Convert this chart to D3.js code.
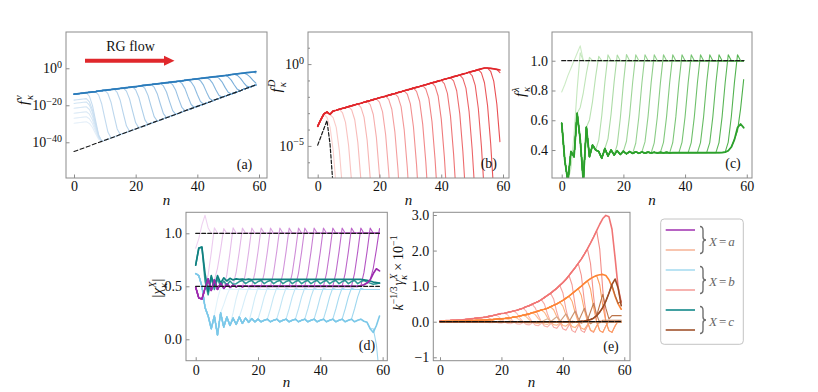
<!DOCTYPE html>
<html><head><meta charset="utf-8">
<script src="https://cdn.jsdelivr.net/npm/d3@7"></script>
<style>
body{margin:0;background:#fff;}
svg{font-family:"Liberation Serif","Times New Roman","DejaVu Serif",serif;background:#fff;}
svg text{font-family:"Liberation Serif","Times New Roman","DejaVu Serif",serif;}
</style></head><body>
<svg id="chart" width="818" height="392"></svg>
<script>
// ================= DATA =================
const xTicks = [0, 20, 40, 60];

// (a) f^nu : log10 values
const aEnvLog = [-14.0,-13.8,-13.6,-13.4,-13.2,-13.0,-12.8,-12.6,-12.3,-12.1,
  -11.9,-11.7,-11.5,-11.3,-11.1,-10.9,-10.7,-10.5,-10.3,-10.1,
  -9.9,-9.7,-9.4,-9.2,-9.0,-8.8,-8.6,-8.4,-8.2,-8.0,
  -7.8,-7.6,-7.4,-7.2,-7.0,-6.8,-6.5,-6.3,-6.1,-5.9,
  -5.7,-5.5,-5.3,-5.1,-4.9,-4.7,-4.5,-4.3,-4.1,-3.9,
  -3.7,-3.4,-3.2,-3.0,-2.8,-2.6,-2.4,-2.2,-2.0,-1.8];
const aLowLog = [-45.0,-44.4,-43.8,-43.2,-42.6,-42.0,-41.3,-40.7,-40.1,-39.5,
  -38.9,-38.3,-37.7,-37.1,-36.5,-35.8,-35.2,-34.6,-34.0,-33.4,
  -32.8,-32.2,-31.6,-31.0,-30.4,-29.7,-29.1,-28.5,-27.9,-27.3,
  -26.7,-26.1,-25.5,-24.9,-24.3,-23.6,-23.0,-22.4,-21.8,-21.2,
  -20.6,-20.0,-19.4,-18.8,-18.2,-17.5,-16.9,-16.3,-15.7,-15.1,
  -14.5,-13.9,-13.3,-12.7,-12.1,-11.4,-10.8,-10.2,-9.6,-9.0];
const aSteps = [4,7,10,13,16,19,22,25,28,31,34,37,40,43,46,49,52,55,58];
const aEarlyOffsets = [-15.7,-13.0,-10.3,-7.6,-5.0,-3.2];
const aEarlyStep = 4;
const aDropFrac = [1, 0.93, 0.75, 0.45, 0.15, 0];
const aTickExp = [0, -20, -40];

// (b) f^D : log10 values
const bEnvLog = [-3.80,-3.40,-3.05,-2.93,-3.07,-2.87,-2.82,-2.76,-2.71,-2.66,
  -2.60,-2.55,-2.49,-2.44,-2.39,-2.33,-2.28,-2.23,-2.17,-2.12,
  -2.06,-2.01,-1.96,-1.90,-1.85,-1.80,-1.74,-1.69,-1.63,-1.58,
  -1.53,-1.47,-1.42,-1.37,-1.31,-1.26,-1.20,-1.15,-1.10,-1.04,
  -0.99,-0.93,-0.88,-0.83,-0.77,-0.72,-0.67,-0.61,-0.56,-0.50,
  -0.45,-0.40,-0.34,-0.29,-0.24,-0.24,-0.26,-0.29,-0.32,-0.36];
const bSteps = [2,4,7,10,13,16,19,22,25,28,31,34,37,40,43,46,49,52,55,58];
const bDropLog = [0,-0.2,-0.8,-2.2,-4.5,-7.5];
const bFixedLog = [-4.95,-4.45,-3.95,-3.45,-4.9,-7.5];
const bTickExp = [0, -5];
const bMinorExp = [1,-1,-2,-3,-4,-6];

// (c) f^lambda
const cBase = [0.58,0.33,0.19,0.39,0.355,0.647,0.47,0.19,0.553,0.355,
  0.434,0.40,0.39,0.345,0.41,0.36,0.40,0.367,0.395,0.37,
  0.392,0.374,0.39,0.377,0.388,0.378,0.387,0.379,0.386,0.38,
  0.385,0.38,0.384,0.381,0.384,0.381,0.383,0.382,0.383,0.382,
  0.382,0.382,0.382,0.382,0.382,0.382,0.382,0.382,0.382,0.382,
  0.382,0.382,0.383,0.386,0.395,0.42,0.47,0.55,0.575,0.55];
const cSteps = [2,5,8,11,14,17,20,23,26,29,32,35,38,41,44,47,50,53,56];
const cRiseFrac = [0, 0.11, 0.39, 0.76, 1.065, 1.0];
const cFirst = [0.79,0.84,0.9,0.95,1.0,1.05,1.1,1.0];
const cTarget = 1.0;
const cTicks = [0.4, 0.6, 0.8, 1.0];

// (d) |chi^X|
const dPurpleBase = [0.49,0.39,0.38,0.48,0.57,0.46,0.56,0.47,0.53,0.48,
  0.52,0.49,0.51,0.495,0.505,0.497,0.503,0.498,0.502,0.499,
  0.501,0.5,0.5,0.5,0.5,0.5,0.5,0.5,0.5,0.5,
  0.5,0.5,0.5,0.5,0.5,0.5,0.5,0.5,0.5,0.5,
  0.5,0.5,0.5,0.5,0.5,0.5,0.5,0.5,0.5,0.5,
  0.5,0.5,0.5,0.505,0.515,0.53,0.56,0.62,0.665,0.645];
const dPSteps = [3,6,9,12,15,18,21,24,27,30,32,35,38,41,44,47,50,53,56];
const dPRise = [0, 0.25, 0.65, 1.1, 1.0];
const dPFirst = [0.86,0.95,1.08,1.17,1.05,1.0];
const dPTarget = 1.0;
const dBlueBase = [0.62,0.6,0.5,0.3,0.22,0.1,0.22,0.04,0.25,0.115,
  0.21,0.13,0.2,0.14,0.21,0.15,0.2,0.16,0.195,0.165,
  0.19,0.165,0.18,0.19,0.165,0.18,0.19,0.165,0.18,0.19,
  0.165,0.18,0.19,0.165,0.18,0.19,0.165,0.18,0.19,0.165,
  0.18,0.19,0.165,0.18,0.19,0.165,0.18,0.19,0.165,0.18,
  0.19,0.165,0.18,0.19,0.17,0.16,0.1,0.065,0.13,0.22];
const dBSteps = [5,8,11,14,17,20,23,26,29,32,35,38,41,44,47,50];
const dBRise = [0, 0.35, 0.75, 1.05, 1.0];
const dBTarget = 0.47;
const dBlueDiveFrom = 56;
const dBlueDive = [0.1, -0.05, -0.35];
const dTealA = [0.70,0.86,0.87,0.62,0.45,0.60,0.50,0.60,0.53,0.58,
  0.55,0.575,0.56,0.57,0.565,0.568,0.563,0.567,0.564,0.566,
  0.565,0.565,0.565,0.565,0.565,0.565,0.565,0.565,0.565,0.565,
  0.565,0.565,0.565,0.565,0.565,0.565,0.565,0.565,0.565,0.565,
  0.565,0.565,0.565,0.565,0.565,0.565,0.565,0.565,0.565,0.565,
  0.565,0.565,0.565,0.565,0.56,0.555,0.55,0.54,0.535,0.53];
const dTealB = [0.70,0.86,0.87,0.55,0.42,0.58,0.47,0.57,0.50,0.55,
  0.51,0.55,0.52,0.525,0.545,0.555,0.525,0.545,0.555,0.525,
  0.545,0.555,0.525,0.545,0.555,0.525,0.545,0.555,0.525,0.545,
  0.555,0.525,0.545,0.555,0.525,0.545,0.555,0.525,0.545,0.555,
  0.525,0.545,0.555,0.525,0.545,0.555,0.525,0.545,0.555,0.525,
  0.545,0.555,0.525,0.545,0.555,0.54,0.53,0.52,0.525,0.53];
const dRefs = [1.0, 0.5];
const dTicks = [0.0, 0.5, 1.0];

// (e) k^-1/3 gamma^X x 10^-1
const eSalmon = [0.02,0.02,0.03,0.03,0.04,0.04,0.05,0.05,0.06,0.07,
  0.08,0.09,0.10,0.11,0.12,0.13,0.15,0.17,0.19,0.21,
  0.23,0.24,0.26,0.28,0.30,0.32,0.35,0.38,0.42,0.45,
  0.49,0.53,0.57,0.62,0.68,0.74,0.80,0.87,0.94,1.02,
  1.10,1.19,1.30,1.41,1.52,1.64,1.76,1.90,2.05,2.21,
  2.38,2.56,2.74,2.90,2.99,2.95,2.60,1.80,0.95,0.55];
const eOrange = [0.00,0.01,0.01,0.01,0.01,0.02,0.02,0.02,0.02,0.03,
  0.03,0.03,0.04,0.04,0.05,0.05,0.06,0.06,0.07,0.08,
  0.08,0.09,0.10,0.11,0.13,0.14,0.16,0.18,0.20,0.22,
  0.25,0.27,0.30,0.33,0.35,0.38,0.42,0.46,0.50,0.55,
  0.60,0.66,0.72,0.79,0.86,0.93,1.00,1.08,1.15,1.21,
  1.26,1.30,1.32,1.33,1.30,1.18,0.98,0.72,0.50,0.35];
const eBrown = [0,0,0,0,0,0,0,0,0,0,
  0,0,0,0,0,0,0,0,0,0,
  0,0,0,0,0,0,0,0,0,0,
  0,0,0,0,0,0,0,0,0,0,
  0,0,0,0,0,0,0.01,0.02,0.04,0.06,
  0.10,0.17,0.27,0.40,0.58,0.80,1.05,1.20,0.95,0.45];
const eSteps = [6,9,12,15,18,21,24,27,30,33,36,39,42,45,48,51];
const eDropFrac = [1, 0.8, 0.35, 0.0];
const eTail = [-0.25, -0.3, -0.12, 0.02, 0];
const eBrownSteps = [33,36,39,42,45,48,51,54];
const eBrownAmp = [0.08,0.14,0.22,0.3,0.38,0.48,0.6,0.45];
const eBump = [0, 0.5, 1.0, 0.35, -0.15, 0];
const eRef = 0;
const eTicks = [3, 2, 1, 0, -1];
const eTickLabels = ['3.0','2.0','1.0','0.0','\u22121'];

// legend
const legendColors = ['#a53db5','#f7b79c','#a9dcf0','#f4a09c','#12888a','#a0522d'];
const legendGroups = ['a','b','c'];
const panelTags = ['(a)','(b)','(c)','(d)','(e)'];

// ================= DRAWING =================
const N = d3.range(60);
const SERIF = '"Liberation Serif","Times New Roman","DejaVu Serif",serif';
const FRAME = '#8c8c8c';
const svg = d3.select('#chart');
const defs = svg.append('defs');

function panel(id, L, R, T, B) {
  defs.append('clipPath').attr('id', 'clip' + id).append('rect')
    .attr('x', L).attr('y', T).attr('width', R - L).attr('height', B - T);
  const g = svg.append('g');
  const plot = g.append('g').attr('clip-path', `url(#clip${id})`);
  return {g, plot, L, R, T, B};
}
function draw(plot, pts, x, y, color, w, dash) {
  const ln = d3.line().x(d => x(d[0])).y(d => y(d[1]));
  plot.append('path').attr('d', ln(pts)).attr('fill', 'none').attr('stroke', color)
    .attr('stroke-width', w).attr('stroke-linejoin', 'round').attr('stroke-linecap', 'round')
    .attr('stroke-dasharray', dash || null);
}
function frame(P) {
  P.g.append('rect').attr('x', P.L).attr('y', P.T).attr('width', P.R - P.L).attr('height', P.B - P.T)
    .attr('fill', 'none').attr('stroke', FRAME).attr('stroke-width', 1);
}
function styleAxis(ax) {
  ax.attr('font-family', SERIF).attr('font-size', 14);
  ax.select('.domain').remove();
  ax.selectAll('line').attr('stroke', FRAME);
  ax.selectAll('text').attr('fill', '#111').attr('font-family', SERIF).attr('font-size', 14);
}
function xAxis(P, x, pad) {
  const ax = P.g.append('g').attr('transform', `translate(0,${P.B})`)
    .call(d3.axisBottom(x).tickValues(xTicks).tickSize(-3.5).tickPadding(pad).tickFormat(d3.format('d')));
  styleAxis(ax);
}
function yAxis(P, y, vals, fmt) {
  const ax = P.g.append('g').attr('transform', `translate(${P.L},0)`)
    .call(d3.axisLeft(y).tickValues(vals).tickSize(-3.5).tickPadding(4).tickFormat(fmt));
  styleAxis(ax);
  return ax;
}
function yLogAxis(P, y, exps, minors) {
  if (minors) {
    const mx = P.g.append('g').attr('transform', `translate(${P.L},0)`)
      .call(d3.axisLeft(y).tickValues(minors.map(e => Math.pow(10, e))).tickSize(-2).tickFormat(() => ''));
    styleAxis(mx);
  }
  const ax = yAxis(P, y, exps.map(e => Math.pow(10, e)), () => '');
  ax.selectAll('.tick').each(function(d) {
    const e = Math.round(Math.log10(d));
    const t = d3.select(this).select('text');
    t.text(null);
    t.append('tspan').text('10');
    t.append('tspan').attr('dy', '-0.55em').attr('font-size', 10).text(e < 0 ? '\u2212' + (-e) : String(e));
  });
}
function richText(parent, x, y, rot, pieces, fs, anchor, color) {
  const g = parent.append('g').attr('transform', `translate(${x},${y}) rotate(${rot})`);
  const inner = g.append('g');
  let cx = 0, supStart = 0;
  pieces.forEach(p => {
    const size = p.s ? fs * 0.7 : fs;
    const dy = p.s === 'sup' ? -fs * 0.42 : (p.s === 'sub' ? fs * 0.3 : 0);
    const x0 = p.stack ? supStart : cx;
    const t = inner.append('text').attr('x', x0).attr('y', dy).attr('font-size', size)
      .attr('font-family', SERIF).attr('font-style', p.i ? 'italic' : 'normal')
      .attr('fill', color || '#111').text(p.t);
    const w = t.node().getComputedTextLength();
    if (p.stack) cx = Math.max(cx, x0 + w); else { supStart = x0; cx = x0 + w; }
    if (p.gap) cx += p.gap;
  });
  const shift = anchor === 'middle' ? -cx / 2 : anchor === 'end' ? -cx : 0;
  inner.attr('transform', `translate(${shift},${fs * 0.35})`);
}
function plainText(x, y, txt, opts) {
  svg.append('text').attr('x', x).attr('y', y).attr('text-anchor', opts.anchor || 'middle')
    .attr('font-size', opts.fs || 14).attr('font-style', opts.i ? 'italic' : 'normal')
    .attr('font-family', SERIF).attr('fill', opts.color || '#111').text(txt);
}

// ---------- panel (a) ----------
const PA = panel('a', 66, 267, 32, 178);
const xA = d3.scaleLinear().domain([-2.6, 62.6]).range([PA.L, PA.R]);
const yA = d3.scaleLog().domain([Math.pow(10, -59.3), Math.pow(10, 19.6)]).range([PA.B, PA.T]);
const aAll = aEarlyOffsets.map(o => ({o, s: aEarlyStep})).concat(aSteps.map(s => ({o: 0, s})));
const aCol = d3.interpolateRgb('#e6f0f9', '#6aa5d5');
aAll.forEach((c, i) => {
  const start = aEnvLog[c.s] + c.o;
  const pts = N.map(n => {
    let v;
    if (n <= c.s) v = aEnvLog[n] + c.o;
    else {
      const k = n - c.s;
      v = k < aDropFrac.length ? aLowLog[n] + aDropFrac[k] * (start - aLowLog[n]) : aLowLog[n];
    }
    return [n, Math.pow(10, v)];
  });
  draw(PA.plot, pts, xA, yA, aCol(i / (aAll.length - 1)), 1.1);
});
draw(PA.plot, N.map(n => [n, Math.pow(10, aEnvLog[n])]), xA, yA, '#2b7bba', 1.7);
draw(PA.plot, N.map(n => [n, Math.pow(10, aLowLog[n])]), xA, yA, '#1a1a1a', 1.1, '4,2.5');
frame(PA);
xAxis(PA, xA, 3);
yLogAxis(PA, yA, aTickExp, null);
// RG flow annotation
svg.append('polygon').attr('points', '85,58.8 164,58.8 164,55.8 174.5,60.8 164,65.8 164,62.8 85,62.8').attr('fill', '#e0282c');
plainText(130.5, 51, 'RG flow', {fs: 14});

// ---------- panel (b) ----------
const PB = panel('b', 308, 509, 32, 178);
const xB = d3.scaleLinear().domain([-3.14, 61.94]).range([PB.L, PB.R]);
const yB = d3.scaleLog().domain([Math.pow(10, -6.96), Math.pow(10, 1.96)]).range([PB.B, PB.T]);
const bCol = d3.interpolateRgb('#fbd2cf', '#e8484c');
bSteps.forEach((s, i) => {
  const pts = [];
  N.forEach(n => {
    if (n <= s) pts.push([n, Math.pow(10, bEnvLog[n])]);
    else if (n - s < bDropLog.length) pts.push([n, Math.pow(10, bEnvLog[s] + bDropLog[n - s])]);
  });
  draw(PB.plot, pts, xB, yB, bCol(i / (bSteps.length - 1)), 1.1);
});
draw(PB.plot, N.map(n => [n, Math.pow(10, bEnvLog[n])]), xB, yB, '#e0262b', 1.7);
draw(PB.plot, bFixedLog.map((v, n) => [n, Math.pow(10, v)]), xB, yB, '#1a1a1a', 1.2, '3.5,2');
frame(PB);
xAxis(PB, xB, 3);
yLogAxis(PB, yB, bTickExp, bMinorExp);

// ---------- panel (c) ----------
const PC = panel('c', 552, 752, 32, 178);
const xC = d3.scaleLinear().domain([-3.15, 61.7]).range([PC.L, PC.R]);
const yC = d3.scaleLinear().domain([0.212, 1.193]).range([PC.B, PC.T]);
const cCol = d3.interpolateRgb('#cdebc6', '#4db04a');
draw(PC.plot, N.map(n => [n, n < cFirst.length ? cFirst[n] : cTarget]), xC, yC, cCol(0), 1.1);
cSteps.forEach((s, i) => {
  const pts = N.map(n => {
    if (n <= s) return [n, cBase[n]];
    const k = n - s;
    return [n, k < cRiseFrac.length ? cBase[s] + cRiseFrac[k] * (cTarget - cBase[s]) : cTarget];
  });
  draw(PC.plot, pts, xC, yC, cCol((i + 1) / cSteps.length), 1.1);
});
draw(PC.plot, N.map(n => [n, cBase[n]]), xC, yC, '#2ca02c', 1.8);
draw(PC.plot, [[0, cTarget], [59, cTarget]], xC, yC, '#1a1a1a', 1.2, '4,2');
frame(PC);
xAxis(PC, xC, 3);
yAxis(PC, yC, cTicks, d3.format('.1f'));

// ---------- panel (d) ----------
const PD = panel('d', 186, 387.3, 212.3, 360.7);
const xD = d3.scaleLinear().domain([-3.11, 61.5]).range([PD.L, PD.R]);
const yD = d3.scaleLinear().domain([-0.202, 1.198]).range([PD.B, PD.T]);
function riseCurve(base, s, frac, target) {
  return N.map(n => {
    if (n <= s) return [n, base[n]];
    const k = n - s;
    return [n, k < frac.length ? base[s] + frac[k] * (target - base[s]) : target];
  });
}
const dBCol = d3.interpolateRgb('#e2f3fb', '#9fd7ef');
dBSteps.forEach((s, i) => draw(PD.plot, riseCurve(dBlueBase, s, dBRise, dBTarget), xD, yD, dBCol(i / (dBSteps.length - 1)), 1.1));
draw(PD.plot, N.map(n => [n, n <= dBlueDiveFrom ? dBlueBase[n] : dBlueDive[n - dBlueDiveFrom - 1]]), xD, yD, '#9fd7ef', 1.1);
draw(PD.plot, N.map(n => [n, dBlueBase[n]]), xD, yD, '#7cc8e8', 1.6);
const dPCol = d3.interpolateRgb('#efd2f1', '#b24fc2');
draw(PD.plot, N.map(n => [n, n < dPFirst.length ? dPFirst[n] : dPTarget]), xD, yD, dPCol(0), 1.1);
dPSteps.forEach((s, i) => draw(PD.plot, riseCurve(dPurpleBase, s, dPRise, dPTarget), xD, yD, dPCol((i + 1) / dPSteps.length), 1.1));
draw(PD.plot, N.map(n => [n, dTealB[n]]), xD, yD, '#2f9a96', 1.5);
draw(PD.plot, N.map(n => [n, dTealA[n]]), xD, yD, '#108080', 1.7);
draw(PD.plot, N.map(n => [n, dPurpleBase[n]]), xD, yD, '#9b2aad', 1.7);
dRefs.forEach(r => draw(PD.plot, [[0, r], [59, r]], xD, yD, '#1a1a1a', 1.2, '4,2'));
frame(PD);
xAxis(PD, xD, 4.5);
yAxis(PD, yD, dTicks, d3.format('.1f'));

// ---------- panel (e) ----------
const PE = panel('e', 433.3, 630, 212.3, 360.7);
const xE = d3.scaleLinear().domain([-2.18, 61.86]).range([PE.L, PE.R]);
const yE = d3.scaleLinear().domain([-1.096, 3.076]).range([PE.B, PE.T]);
function dropCurve(env, s) {
  return N.map(n => {
    if (n <= s) return [n, env[n]];
    const k = n - s;
    if (k < eDropFrac.length) return [n, eDropFrac[k] * env[s]];
    const j = k - eDropFrac.length;
    return [n, j < eTail.length ? eTail[j] * Math.min(env[s], 1) : eRef];
  });
}
const eSCol = d3.interpolateRgb('#fcd9d4', '#f38d88');
eSteps.forEach((s, i) => draw(PE.plot, dropCurve(eSalmon, s), xE, yE, eSCol(i / (eSteps.length - 1)), 1.1));
draw(PE.plot, N.map(n => [n, eSalmon[n]]), xE, yE, '#f07575', 1.6);
const eOCol = d3.interpolateRgb('#fde0cc', '#fd9e5e');
eSteps.forEach((s, i) => draw(PE.plot, dropCurve(eOrange, s), xE, yE, eOCol(i / (eSteps.length - 1)), 1.1));
draw(PE.plot, N.map(n => [n, eOrange[n]]), xE, yE, '#fd8435', 1.6);
const eBCol = d3.interpolateRgb('#dcb497', '#b5683c');
eBrownSteps.forEach((s, i) => {
  const pts = N.map(n => {
    if (n <= s) return [n, eBrown[n]];
    const k = n - s;
    return [n, eBrown[s] + (k < eBump.length ? eBump[k] * eBrownAmp[i] : 0)];
  });
  draw(PE.plot, pts, xE, yE, eBCol(i / (eBrownSteps.length - 1)), 1.1);
});
draw(PE.plot, N.map(n => [n, eBrown[n]]), xE, yE, '#9a4b25', 1.6);
draw(PE.plot, [[0, eRef], [59, eRef]], xE, yE, '#111', 1.3, '5,1.5');
frame(PE);
xAxis(PE, xE, 4.5);
yAxis(PE, yE, eTicks, (d, i) => eTickLabels[i]);

// ---------- axis labels ----------
plainText(166.5, 205, 'n', {i: true, fs: 15});
plainText(408.5, 205, 'n', {i: true, fs: 15});
plainText(652, 205, 'n', {i: true, fs: 15});
plainText(286.5, 387, 'n', {i: true, fs: 15});
plainText(531.5, 387, 'n', {i: true, fs: 15});
richText(svg, 23, 100, -90, [{t: 'f', i: true, gap: 1}, {t: 'ν', s: 'sup', i: true}, {t: 'κ', s: 'sub', i: true, stack: true}], 15, 'middle');
richText(svg, 276, 86, -90, [{t: 'f', i: true, gap: 1}, {t: 'D', s: 'sup', i: true}, {t: 'κ', s: 'sub', i: true, stack: true}], 15, 'middle');
richText(svg, 520, 92, -90, [{t: 'f', i: true, gap: 1}, {t: 'λ', s: 'sup', i: true}, {t: 'κ', s: 'sub', i: true, stack: true}], 15, 'middle');
richText(svg, 157, 288, -90, [{t: '|'}, {t: 'χ', i: true}, {t: 'X', s: 'sup', i: true}, {t: 'κ', s: 'sub', i: true, stack: true}, {t: '|'}], 15, 'middle');
richText(svg, 398, 273, -90, [{t: 'k', i: true}, {t: '\u22121/3', s: 'sup', gap: 1}, {t: 'γ', i: true}, {t: 'X', s: 'sup', i: true}, {t: 'κ', s: 'sub', i: true, stack: true, gap: 3}, {t: '×', gap: 3}, {t: '10'}, {t: '\u22121', s: 'sup'}], 14, 'middle');

// panel tags
plainText(244.5, 168.5, panelTags[0], {fs: 14});
plainText(488.8, 168, panelTags[1], {fs: 14});
plainText(733, 168, panelTags[2], {fs: 14});
plainText(367, 350, panelTags[3], {fs: 14});
plainText(611, 351, panelTags[4], {fs: 14});

// ---------- legend ----------
const lg = svg.append('g');
lg.append('rect').attr('x', 660.7).attr('y', 219).attr('width', 82.6).attr('height', 125.3)
  .attr('rx', 3.5).attr('fill', '#fff').attr('stroke', '#c4c4c4').attr('stroke-width', 1);
const legY = d3.scalePoint().domain(d3.range(legendColors.length)).range([230, 330]);
legendColors.forEach((c, i) => {
  lg.append('line').attr('x1', 665.7).attr('x2', 695).attr('y1', legY(i)).attr('y2', legY(i))
    .attr('stroke', c).attr('stroke-width', 1.6);
});
legendGroups.forEach((lab, j) => {
  const cy = (legY(2 * j) + legY(2 * j + 1)) / 2;
  const x0 = 700, y0 = cy - 13.5, y1 = cy + 13.5;
  const bd = `M${x0},${y0} Q${x0 + 3},${y0} ${x0 + 3},${y0 + 4} L${x0 + 3},${cy - 3} Q${x0 + 3},${cy} ${x0 + 6},${cy} ` +
             `Q${x0 + 3},${cy} ${x0 + 3},${cy + 3} L${x0 + 3},${y1 - 4} Q${x0 + 3},${y1} ${x0},${y1}`;
  lg.append('path').attr('d', bd).attr('fill', 'none').attr('stroke', '#707070').attr('stroke-width', 1.4);
  richText(lg, 709, cy + 1.5, 0, [{t: 'X', i: true, gap: 2}, {t: '=', gap: 2}, {t: lab, i: true}], 13, 'start', '#666');
});
</script>
</body></html>
